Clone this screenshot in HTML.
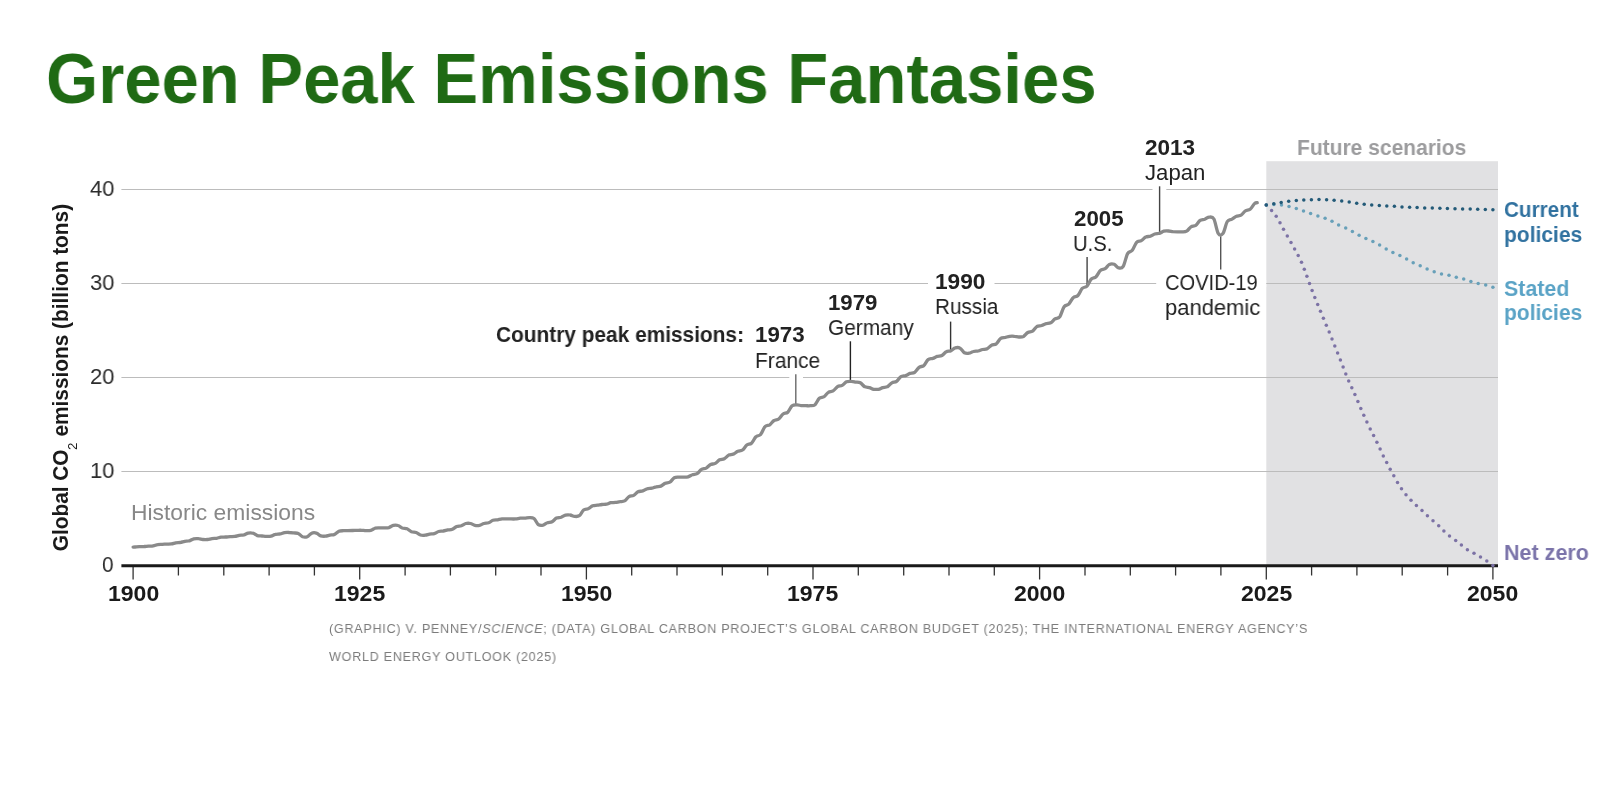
<!DOCTYPE html>
<html><head><meta charset="utf-8"><title>Green Peak Emissions Fantasies</title>
<style>
html,body{margin:0;padding:0;background:#fff;}
body{width:1600px;height:800px;position:relative;overflow:hidden;font-family:"Liberation Sans",sans-serif;}
h1{position:absolute;left:46.3px;top:40.4px;margin:0;font-size:69.6px;line-height:78px;transform-origin:0 0;transform:scaleX(0.963);font-weight:bold;color:#1f6a14;white-space:nowrap;will-change:transform;}
svg{position:absolute;left:0;top:0;}
.t{position:absolute;white-space:nowrap;transform-origin:0 0;will-change:transform;}
.cap{position:absolute;left:329px;white-space:nowrap;font-size:13px;line-height:13px;color:#7b7b7b;letter-spacing:0.75px;transform-origin:0 0;transform:scaleX(0.968);will-change:transform;}
.ytitle{position:absolute;left:0;top:0;white-space:nowrap;font-weight:bold;color:#1a1a1a;font-size:22.6px;line-height:22.6px;transform-origin:0 0;transform:translate(49.8px,551.3px) rotate(-90deg) scaleX(0.922);}
.ytitle sub{font-weight:normal;font-size:12px;vertical-align:baseline;position:relative;top:8.6px;margin-left:-0.6px;margin-right:1.6px;line-height:0;display:inline-block;transform:scaleX(1.2);transform-origin:0 0;}
</style></head><body>
<h1>Green Peak Emissions Fantasies</h1>
<svg width="1600" height="800" viewBox="0 0 1600 800">
<rect x="1266.3" y="161.2" width="231.7" height="405" fill="#e1e1e3"/>
<g stroke="#bcbcbc" stroke-width="1.2"><line x1="121.4" y1="471.5" x2="1498" y2="471.5"/><line x1="121.4" y1="377.5" x2="1498" y2="377.5"/><line x1="121.4" y1="283.5" x2="1498" y2="283.5"/><line x1="121.4" y1="189.5" x2="1498" y2="189.5"/></g>
<g fill="#fff">
<rect x="928" y="280" width="66.5" height="7"/>
<rect x="1156.2" y="280" width="110" height="7"/>
<rect x="1152.5" y="186" width="13.8" height="7"/>
<rect x="789.3" y="374" width="13.7" height="7"/>
</g>
<g stroke="#333" stroke-width="1.3"><line x1="133.1" y1="566" x2="133.1" y2="579.5"/><line x1="178.4" y1="566" x2="178.4" y2="575.5"/><line x1="223.8" y1="566" x2="223.8" y2="575.5"/><line x1="269.1" y1="566" x2="269.1" y2="575.5"/><line x1="314.4" y1="566" x2="314.4" y2="575.5"/><line x1="359.7" y1="566" x2="359.7" y2="579.5"/><line x1="405.1" y1="566" x2="405.1" y2="575.5"/><line x1="450.4" y1="566" x2="450.4" y2="575.5"/><line x1="495.7" y1="566" x2="495.7" y2="575.5"/><line x1="541.0" y1="566" x2="541.0" y2="575.5"/><line x1="586.4" y1="566" x2="586.4" y2="579.5"/><line x1="631.7" y1="566" x2="631.7" y2="575.5"/><line x1="677.0" y1="566" x2="677.0" y2="575.5"/><line x1="722.3" y1="566" x2="722.3" y2="575.5"/><line x1="767.7" y1="566" x2="767.7" y2="575.5"/><line x1="813.0" y1="566" x2="813.0" y2="579.5"/><line x1="858.3" y1="566" x2="858.3" y2="575.5"/><line x1="903.7" y1="566" x2="903.7" y2="575.5"/><line x1="949.0" y1="566" x2="949.0" y2="575.5"/><line x1="994.3" y1="566" x2="994.3" y2="575.5"/><line x1="1039.6" y1="566" x2="1039.6" y2="579.5"/><line x1="1085.0" y1="566" x2="1085.0" y2="575.5"/><line x1="1130.3" y1="566" x2="1130.3" y2="575.5"/><line x1="1175.6" y1="566" x2="1175.6" y2="575.5"/><line x1="1220.9" y1="566" x2="1220.9" y2="575.5"/><line x1="1266.3" y1="566" x2="1266.3" y2="579.5"/><line x1="1311.6" y1="566" x2="1311.6" y2="575.5"/><line x1="1356.9" y1="566" x2="1356.9" y2="575.5"/><line x1="1402.2" y1="566" x2="1402.2" y2="575.5"/><line x1="1447.6" y1="566" x2="1447.6" y2="575.5"/><line x1="1492.9" y1="566" x2="1492.9" y2="579.5"/></g>
<line x1="121.4" y1="565.7" x2="1498" y2="565.7" stroke="#1a1a1a" stroke-width="3"/>
<g stroke-width="1.4">
<line x1="795.8" y1="374.3" x2="795.8" y2="404" stroke="#6a6a6a"/>
<line x1="850.4" y1="341.3" x2="850.4" y2="381.5" stroke="#222"/>
<line x1="950.6" y1="321.6" x2="950.6" y2="350.3" stroke="#333"/>
<line x1="1087.1" y1="257" x2="1087.1" y2="285" stroke="#444"/>
<line x1="1159.6" y1="186.3" x2="1159.6" y2="233" stroke="#444"/>
<line x1="1220.7" y1="236.3" x2="1220.7" y2="269.5" stroke="#555"/>
</g>
<path d="M133.1,547.1C133.4,547.1 134.0,547.1 135.1,547.0C136.2,546.9 137.9,546.7 139.4,546.6C141.0,546.5 142.6,546.5 144.2,546.5C145.7,546.4 147.0,546.2 148.5,546.1C150.0,546.0 151.7,546.1 153.2,545.8C154.7,545.6 156.1,544.8 157.6,544.6C159.1,544.3 160.8,544.4 162.3,544.3C163.8,544.2 165.1,544.2 166.6,544.1C168.2,544.0 169.8,544.1 171.4,543.9C172.9,543.7 174.2,543.1 175.7,542.8C177.2,542.6 178.9,542.7 180.4,542.5C181.9,542.2 183.3,541.6 184.8,541.3C186.3,541.1 188.0,541.3 189.5,540.8C191.0,540.4 192.3,539.2 193.8,538.8C195.3,538.5 197.0,538.5 198.6,538.7C200.1,538.8 201.4,539.4 202.9,539.5C204.4,539.7 206.1,539.7 207.6,539.5C209.1,539.3 210.5,538.8 212.0,538.6C213.5,538.4 215.2,538.5 216.7,538.3C218.2,538.0 219.5,537.4 221.0,537.2C222.5,537.0 224.2,537.1 225.7,537.0C227.3,536.9 228.6,536.7 230.1,536.6C231.6,536.5 233.3,536.6 234.8,536.4C236.3,536.2 237.7,535.6 239.2,535.3C240.7,535.1 242.4,535.2 243.9,534.9C245.4,534.5 246.7,533.4 248.2,533.1C249.7,532.8 251.4,532.7 252.9,533.2C254.5,533.6 255.8,535.1 257.3,535.6C258.8,536.1 260.5,535.9 262.0,536.0C263.5,536.1 264.8,536.3 266.4,536.3C267.9,536.3 269.6,536.4 271.1,536.1C272.6,535.8 273.9,534.7 275.4,534.4C276.9,534.0 278.6,534.2 280.1,533.9C281.7,533.6 283.0,532.9 284.5,532.6C286.0,532.4 287.7,532.4 289.2,532.5C290.7,532.5 292.0,532.7 293.6,532.9C295.1,533.1 296.8,532.8 298.3,533.5C299.8,534.1 301.1,536.2 302.6,536.8C304.1,537.3 305.8,537.3 307.3,536.7C308.8,536.1 310.2,533.8 311.7,533.2C313.2,532.5 314.9,532.6 316.4,533.1C317.9,533.5 319.2,535.4 320.8,535.9C322.3,536.4 324.0,536.3 325.5,536.2C327.0,536.1 328.3,535.4 329.8,535.1C331.3,534.8 333.0,535.1 334.5,534.4C336.0,533.8 337.4,531.9 338.9,531.2C340.4,530.6 342.1,530.8 343.6,530.7C345.1,530.6 346.4,530.6 347.9,530.6C349.5,530.5 351.2,530.5 352.7,530.5C354.2,530.5 355.5,530.3 357.0,530.3C358.5,530.3 360.2,530.2 361.7,530.3C363.2,530.4 364.6,530.7 366.1,530.7C367.6,530.7 369.3,530.8 370.8,530.4C372.3,530.0 373.6,528.7 375.1,528.2C376.7,527.8 378.3,528.0 379.9,527.9C381.4,527.8 382.7,528.0 384.2,527.9C385.7,527.8 387.4,528.0 388.9,527.6C390.4,527.1 391.8,525.8 393.3,525.4C394.8,525.1 396.5,525.0 398.0,525.5C399.5,525.9 400.8,527.4 402.3,528.0C403.9,528.5 405.5,528.2 407.1,528.8C408.6,529.4 409.9,531.1 411.4,531.7C412.9,532.3 414.6,532.0 416.1,532.5C417.6,533.1 419.0,534.6 420.5,535.0C422.0,535.5 423.7,535.4 425.2,535.2C426.7,535.1 428.0,534.4 429.5,534.1C431.0,533.8 432.7,534.0 434.3,533.6C435.8,533.2 437.1,531.9 438.6,531.5C440.1,531.1 441.8,531.3 443.3,531.0C444.8,530.8 446.2,530.2 447.7,529.9C449.2,529.7 450.9,529.9 452.4,529.3C453.9,528.7 455.2,527.1 456.7,526.5C458.2,525.9 459.9,526.2 461.4,525.7C463.0,525.2 464.3,523.9 465.8,523.5C467.3,523.2 469.0,523.2 470.5,523.5C472.0,523.8 473.4,525.0 474.9,525.3C476.4,525.6 478.1,525.6 479.6,525.3C481.1,525.0 482.4,523.9 483.9,523.5C485.4,523.1 487.1,523.3 488.6,522.8C490.2,522.3 491.5,520.8 493.0,520.3C494.5,519.8 496.2,520.0 497.7,519.8C499.2,519.5 500.5,519.1 502.1,518.9C503.6,518.8 505.3,518.8 506.8,518.8C508.3,518.8 509.6,518.9 511.1,518.9C512.6,519.0 514.3,519.0 515.8,518.9C517.3,518.7 518.7,518.4 520.2,518.2C521.7,518.1 523.4,518.2 524.9,518.1C526.4,518.0 527.7,517.6 529.3,517.6C530.8,517.7 532.5,517.4 534.0,518.5C535.5,519.7 536.8,523.5 538.3,524.6C539.8,525.7 541.5,525.5 543.0,525.2C544.5,524.8 545.9,523.2 547.4,522.7C548.9,522.1 550.6,522.5 552.1,521.7C553.6,520.9 554.9,518.9 556.5,518.1C558.0,517.4 559.7,517.7 561.2,517.2C562.7,516.7 564.0,515.5 565.5,515.1C567.0,514.7 568.7,514.7 570.2,515.0C571.7,515.2 573.1,516.3 574.6,516.4C576.1,516.5 577.8,516.8 579.3,515.7C580.8,514.7 582.1,511.2 583.6,510.0C585.2,508.8 586.9,509.4 588.4,508.6C589.9,507.9 591.2,506.4 592.7,505.8C594.2,505.2 595.9,505.4 597.4,505.2C598.9,505.0 600.3,504.7 601.8,504.5C603.3,504.3 605.0,504.5 606.5,504.2C608.0,503.9 609.3,503.0 610.8,502.7C612.4,502.5 614.0,502.6 615.6,502.4C617.1,502.2 618.4,501.9 619.9,501.7C621.4,501.4 623.1,501.7 624.6,500.9C626.1,500.1 627.5,497.5 629.0,496.6C630.5,495.7 632.2,496.2 633.7,495.4C635.2,494.6 636.5,492.5 638.0,491.8C639.5,491.1 641.2,491.4 642.8,490.9C644.3,490.4 645.6,489.2 647.1,488.8C648.6,488.3 650.3,488.5 651.8,488.2C653.3,487.9 654.7,487.1 656.2,486.8C657.7,486.4 659.4,486.7 660.9,486.1C662.4,485.5 663.7,483.9 665.2,483.2C666.7,482.6 668.4,483.0 669.9,482.1C671.5,481.2 672.8,478.6 674.3,477.8C675.8,477.0 677.5,477.3 679.0,477.1C680.5,477.0 681.9,477.2 683.4,477.1C684.9,477.1 686.6,477.2 688.1,476.8C689.6,476.4 690.9,475.2 692.4,474.7C693.9,474.1 695.6,474.5 697.1,473.6C698.7,472.8 700.0,470.3 701.5,469.4C703.0,468.4 704.7,468.9 706.2,468.1C707.7,467.3 709.1,465.3 710.6,464.5C712.1,463.8 713.8,464.2 715.3,463.4C716.8,462.6 718.1,460.6 719.6,459.8C721.1,459.1 722.8,459.5 724.3,458.7C725.9,457.9 727.2,455.9 728.7,455.1C730.2,454.4 731.9,454.8 733.4,454.1C734.9,453.5 736.2,452.0 737.8,451.3C739.3,450.6 741.0,451.1 742.5,450.0C744.0,449.0 745.3,446.2 746.8,445.0C748.3,443.9 750.0,444.6 751.5,443.2C753.0,441.9 754.4,438.2 755.9,436.8C757.4,435.3 759.1,436.2 760.6,434.5C762.1,432.9 763.4,428.3 765.0,426.7C766.5,425.1 768.2,425.8 769.7,424.8C771.2,423.7 772.5,421.4 774.0,420.5C775.5,419.5 777.2,420.1 778.7,419.0C780.2,417.9 781.6,415.1 783.1,414.0C784.6,412.9 786.3,413.6 787.8,412.2C789.3,410.8 790.6,407.0 792.1,405.8C793.7,404.6 795.4,404.9 796.9,404.9C798.4,404.8 799.7,405.4 801.2,405.6C802.7,405.7 804.4,405.7 805.9,405.7C807.4,405.7 808.8,405.9 810.3,405.7C811.8,405.5 813.5,405.9 815.0,404.7C816.5,403.4 817.8,399.6 819.3,398.3C820.9,396.9 822.5,397.6 824.1,396.6C825.6,395.6 826.9,393.2 828.4,392.3C829.9,391.3 831.6,391.9 833.1,390.9C834.6,390.0 836.0,387.6 837.5,386.6C839.0,385.7 840.7,386.2 842.2,385.4C843.7,384.6 845.0,382.5 846.5,381.8C848.1,381.2 849.7,381.3 851.3,381.4C852.8,381.4 854.1,381.8 855.6,382.1C857.1,382.3 858.8,382.0 860.3,382.8C861.8,383.6 863.2,385.9 864.7,386.7C866.2,387.6 867.9,387.2 869.4,387.6C870.9,388.0 872.2,389.0 873.7,389.3C875.2,389.5 876.9,389.5 878.5,389.3C880.0,389.0 881.3,388.0 882.8,387.6C884.3,387.2 886.0,387.6 887.5,386.7C889.0,385.9 890.4,383.7 891.9,382.8C893.4,381.9 895.1,382.5 896.6,381.4C898.1,380.4 899.4,377.6 900.9,376.7C902.4,375.7 904.1,376.1 905.6,375.6C907.2,375.0 908.5,374.0 910.0,373.4C911.5,372.9 913.2,373.3 914.7,372.3C916.2,371.3 917.6,368.4 919.1,367.3C920.6,366.2 922.3,366.8 923.8,365.6C925.3,364.3 926.6,360.8 928.1,359.6C929.6,358.4 931.3,358.9 932.8,358.4C934.4,357.8 935.7,356.9 937.2,356.4C938.7,355.9 940.4,356.3 941.9,355.5C943.4,354.7 944.7,352.6 946.3,351.8C947.8,351.0 949.5,351.4 951.0,350.7C952.5,350.1 953.8,348.3 955.3,347.9C956.8,347.4 958.5,347.3 960.0,348.2C961.6,349.0 962.9,351.9 964.4,352.8C965.9,353.6 967.6,353.5 969.1,353.2C970.6,353.0 971.9,351.8 973.5,351.5C975.0,351.1 976.7,351.3 978.2,351.0C979.7,350.6 981.0,349.9 982.5,349.5C984.0,349.2 985.7,349.5 987.2,348.7C988.7,348.0 990.1,346.0 991.6,345.2C993.1,344.3 994.8,344.9 996.3,343.8C997.8,342.6 999.1,339.5 1000.7,338.4C1002.2,337.3 1003.9,337.7 1005.4,337.4C1006.9,337.0 1008.2,336.5 1009.7,336.3C1011.2,336.1 1012.9,336.1 1014.4,336.3C1015.9,336.4 1017.3,336.9 1018.8,337.0C1020.3,337.0 1022.0,337.2 1023.5,336.5C1025.0,335.7 1026.3,333.4 1027.8,332.5C1029.4,331.6 1031.1,332.2 1032.6,331.2C1034.1,330.2 1035.4,327.5 1036.9,326.5C1038.4,325.6 1040.1,326.0 1041.6,325.5C1043.1,325.1 1044.5,324.2 1046.0,323.7C1047.5,323.3 1049.2,323.6 1050.7,322.8C1052.2,322.0 1053.5,319.9 1055.0,318.9C1056.6,317.9 1058.2,318.7 1059.8,316.7C1061.3,314.7 1062.6,308.8 1064.1,306.7C1065.6,304.6 1067.3,305.6 1068.8,304.1C1070.3,302.6 1071.7,299.1 1073.2,297.7C1074.7,296.2 1076.4,297.1 1077.9,295.5C1079.4,294.0 1080.7,290.0 1082.2,288.4C1083.8,286.8 1085.4,287.7 1087.0,286.1C1088.5,284.6 1089.8,280.5 1091.3,279.0C1092.8,277.4 1094.5,278.3 1096.0,276.8C1097.5,275.4 1098.9,271.8 1100.4,270.4C1101.9,269.1 1103.6,269.7 1105.1,268.7C1106.6,267.7 1107.9,265.2 1109.4,264.4C1110.9,263.7 1112.6,263.7 1114.2,264.3C1115.7,264.9 1117.0,267.5 1118.5,267.9C1120.0,268.2 1121.7,268.8 1123.2,266.4C1124.7,264.0 1126.1,256.3 1127.6,253.6C1129.1,250.9 1130.8,252.2 1132.3,250.3C1133.8,248.4 1135.1,244.1 1136.6,242.4C1138.1,240.8 1139.8,241.5 1141.3,240.6C1142.9,239.7 1144.2,237.8 1145.7,237.1C1147.2,236.3 1148.9,236.7 1150.4,236.2C1151.9,235.7 1153.3,234.5 1154.8,234.0C1156.3,233.5 1158.0,233.8 1159.5,233.3C1161.0,232.9 1162.3,231.6 1163.8,231.2C1165.3,230.8 1167.0,230.9 1168.5,231.0C1170.1,231.1 1171.4,231.5 1172.9,231.7C1174.4,231.8 1176.1,231.8 1177.6,231.8C1179.1,231.8 1180.4,231.9 1182.0,231.8C1183.5,231.7 1185.2,232.0 1186.7,231.1C1188.2,230.3 1189.5,227.8 1191.0,226.8C1192.5,225.9 1194.2,226.4 1195.7,225.4C1197.2,224.3 1198.6,221.4 1200.1,220.4C1201.6,219.3 1203.3,219.8 1204.8,219.2C1206.3,218.7 1207.6,217.1 1209.2,217.1C1210.7,217.1 1212.4,216.3 1213.9,219.0C1215.4,221.7 1216.7,230.9 1218.2,233.3C1219.7,235.7 1221.4,235.6 1222.9,233.6C1224.4,231.7 1225.8,223.9 1227.3,221.5C1228.8,219.1 1230.5,220.0 1232.0,219.1C1233.5,218.3 1234.8,216.9 1236.4,216.3C1237.9,215.6 1239.6,216.0 1241.1,215.1C1242.6,214.2 1243.9,211.8 1245.4,210.9C1246.9,209.9 1248.6,210.5 1250.1,209.3C1251.6,208.1 1253.3,204.7 1254.5,203.6C1255.7,202.5 1256.7,202.8 1257.2,202.7" fill="none" stroke="#8a8a8a" stroke-width="3.3" stroke-linecap="round" stroke-linejoin="round"/>
<g fill="#7c72a5"><circle cx="1266.3" cy="205.0" r="1.75"/><circle cx="1271.6" cy="210.4" r="1.75"/><circle cx="1276.2" cy="216.2" r="1.75"/><circle cx="1280.0" cy="222.7" r="1.75"/><circle cx="1283.5" cy="229.3" r="1.75"/><circle cx="1287.3" cy="235.9" r="1.75"/><circle cx="1291.0" cy="242.4" r="1.75"/><circle cx="1294.6" cy="248.9" r="1.75"/><circle cx="1298.2" cy="255.6" r="1.75"/><circle cx="1301.5" cy="262.3" r="1.75"/><circle cx="1304.3" cy="269.3" r="1.75"/><circle cx="1306.9" cy="276.3" r="1.75"/><circle cx="1309.5" cy="283.4" r="1.75"/><circle cx="1312.1" cy="290.4" r="1.75"/><circle cx="1314.8" cy="297.4" r="1.75"/><circle cx="1317.7" cy="304.4" r="1.75"/><circle cx="1320.5" cy="311.3" r="1.75"/><circle cx="1323.4" cy="318.2" r="1.75"/><circle cx="1326.3" cy="325.2" r="1.75"/><circle cx="1329.2" cy="332.1" r="1.75"/><circle cx="1332.0" cy="339.0" r="1.75"/><circle cx="1334.8" cy="346.0" r="1.75"/><circle cx="1337.6" cy="353.0" r="1.75"/><circle cx="1340.4" cy="360.0" r="1.75"/><circle cx="1343.1" cy="367.0" r="1.75"/><circle cx="1345.8" cy="374.0" r="1.75"/><circle cx="1348.7" cy="380.9" r="1.75"/><circle cx="1351.8" cy="387.8" r="1.75"/><circle cx="1354.9" cy="394.6" r="1.75"/><circle cx="1357.9" cy="401.5" r="1.75"/><circle cx="1360.8" cy="408.4" r="1.75"/><circle cx="1363.8" cy="415.3" r="1.75"/><circle cx="1366.9" cy="422.1" r="1.75"/><circle cx="1370.2" cy="428.9" r="1.75"/><circle cx="1373.6" cy="435.6" r="1.75"/><circle cx="1376.9" cy="442.3" r="1.75"/><circle cx="1380.1" cy="449.1" r="1.75"/><circle cx="1383.3" cy="455.9" r="1.75"/><circle cx="1386.7" cy="462.6" r="1.75"/><circle cx="1390.2" cy="469.2" r="1.75"/><circle cx="1393.8" cy="475.8" r="1.75"/><circle cx="1397.5" cy="482.4" r="1.75"/><circle cx="1401.5" cy="488.7" r="1.75"/><circle cx="1406.0" cy="494.7" r="1.75"/><circle cx="1411.0" cy="500.3" r="1.75"/><circle cx="1416.4" cy="505.5" r="1.75"/><circle cx="1422.0" cy="510.6" r="1.75"/><circle cx="1427.4" cy="515.7" r="1.75"/><circle cx="1433.0" cy="520.7" r="1.75"/><circle cx="1438.7" cy="525.7" r="1.75"/><circle cx="1443.9" cy="531.0" r="1.75"/><circle cx="1449.5" cy="536.0" r="1.75"/><circle cx="1455.7" cy="540.4" r="1.75"/><circle cx="1461.4" cy="545.1" r="1.75"/><circle cx="1467.4" cy="549.7" r="1.75"/><circle cx="1474.0" cy="553.3" r="1.75"/><circle cx="1480.5" cy="557.0" r="1.75"/><circle cx="1486.8" cy="561.1" r="1.75"/><circle cx="1492.9" cy="565.5" r="1.75"/></g>
<g fill="#68a0b9"><circle cx="1266.3" cy="205.0" r="1.75"/><circle cx="1273.9" cy="204.5" r="1.75"/><circle cx="1281.5" cy="205.1" r="1.75"/><circle cx="1289.0" cy="206.4" r="1.75"/><circle cx="1296.3" cy="208.5" r="1.75"/><circle cx="1303.5" cy="210.9" r="1.75"/><circle cx="1310.6" cy="213.6" r="1.75"/><circle cx="1317.9" cy="215.9" r="1.75"/><circle cx="1325.1" cy="218.2" r="1.75"/><circle cx="1332.0" cy="221.3" r="1.75"/><circle cx="1338.6" cy="225.1" r="1.75"/><circle cx="1345.7" cy="228.0" r="1.75"/><circle cx="1352.4" cy="231.5" r="1.75"/><circle cx="1359.1" cy="235.2" r="1.75"/><circle cx="1365.9" cy="238.6" r="1.75"/><circle cx="1372.9" cy="241.4" r="1.75"/><circle cx="1379.6" cy="245.1" r="1.75"/><circle cx="1386.2" cy="248.9" r="1.75"/><circle cx="1392.9" cy="252.4" r="1.75"/><circle cx="1399.9" cy="255.4" r="1.75"/><circle cx="1406.6" cy="259.1" r="1.75"/><circle cx="1413.2" cy="262.8" r="1.75"/><circle cx="1420.2" cy="265.7" r="1.75"/><circle cx="1427.1" cy="268.9" r="1.75"/><circle cx="1434.2" cy="271.7" r="1.75"/><circle cx="1441.5" cy="273.9" r="1.75"/><circle cx="1449.0" cy="275.3" r="1.75"/><circle cx="1456.3" cy="277.2" r="1.75"/><circle cx="1463.7" cy="278.9" r="1.75"/><circle cx="1470.9" cy="281.5" r="1.75"/><circle cx="1478.2" cy="283.5" r="1.75"/><circle cx="1485.7" cy="284.9" r="1.75"/><circle cx="1492.9" cy="287.3" r="1.75"/></g>
<g fill="#235a78"><circle cx="1266.3" cy="205.0" r="1.75"/><circle cx="1273.8" cy="203.8" r="1.75"/><circle cx="1281.2" cy="202.5" r="1.75"/><circle cx="1288.7" cy="201.3" r="1.75"/><circle cx="1296.3" cy="200.5" r="1.75"/><circle cx="1303.8" cy="199.9" r="1.75"/><circle cx="1311.4" cy="199.7" r="1.75"/><circle cx="1319.0" cy="199.6" r="1.75"/><circle cx="1326.6" cy="199.7" r="1.75"/><circle cx="1334.1" cy="200.2" r="1.75"/><circle cx="1341.7" cy="201.1" r="1.75"/><circle cx="1349.2" cy="202.1" r="1.75"/><circle cx="1356.7" cy="203.3" r="1.75"/><circle cx="1364.2" cy="204.2" r="1.75"/><circle cx="1371.7" cy="204.9" r="1.75"/><circle cx="1379.3" cy="205.5" r="1.75"/><circle cx="1386.8" cy="206.0" r="1.75"/><circle cx="1394.4" cy="206.3" r="1.75"/><circle cx="1402.0" cy="206.9" r="1.75"/><circle cx="1409.6" cy="207.2" r="1.75"/><circle cx="1417.1" cy="207.6" r="1.75"/><circle cx="1424.7" cy="207.9" r="1.75"/><circle cx="1432.3" cy="208.1" r="1.75"/><circle cx="1439.9" cy="208.3" r="1.75"/><circle cx="1447.4" cy="208.5" r="1.75"/><circle cx="1455.0" cy="208.8" r="1.75"/><circle cx="1462.6" cy="208.9" r="1.75"/><circle cx="1470.2" cy="209.1" r="1.75"/><circle cx="1477.7" cy="209.3" r="1.75"/><circle cx="1485.3" cy="209.5" r="1.75"/><circle cx="1492.9" cy="209.8" r="1.75"/></g>
</svg>
<div class="t" style="left:89.51px;top:177.00px;font-size:22.67px;line-height:22.67px;font-weight:normal;color:#2b2b2b;transform:scaleX(0.9726);">40</div>
<div class="t" style="left:102.18px;top:553.00px;font-size:22.67px;line-height:22.67px;font-weight:normal;color:#2b2b2b;transform:scaleX(0.9209);">0</div>
<div class="t" style="left:107.67px;top:582.00px;font-size:22.67px;line-height:22.67px;font-weight:bold;color:#1a1a1a;transform:scaleX(1.0167);">1900</div>
<div class="t" style="left:131.13px;top:501.00px;font-size:22.67px;line-height:22.67px;font-weight:normal;color:#888888;transform:scaleX(1.0089);">Historic emissions</div>
<div class="t" style="left:495.56px;top:324.00px;font-size:22.15px;line-height:22.15px;font-weight:bold;color:#222;transform:scaleX(0.9418);">Country peak emissions:</div>
<div class="t" style="left:755.29px;top:324.00px;font-size:22.15px;line-height:22.15px;font-weight:bold;color:#222;transform:scaleX(1.0064);">1973</div>
<div class="t" style="left:755.14px;top:350.00px;font-size:22.15px;line-height:22.15px;font-weight:normal;color:#222;transform:scaleX(0.9464);">France</div>
<div class="t" style="left:827.89px;top:292.00px;font-size:22.15px;line-height:22.15px;font-weight:bold;color:#222;transform:scaleX(1.0043);">1979</div>
<div class="t" style="left:827.96px;top:317.00px;font-size:22.15px;line-height:22.15px;font-weight:normal;color:#222;transform:scaleX(0.9411);">Germany</div>
<div class="t" style="left:934.86px;top:271.00px;font-size:22.15px;line-height:22.15px;font-weight:bold;color:#222;transform:scaleX(1.0246);">1990</div>
<div class="t" style="left:934.76px;top:296.00px;font-size:22.15px;line-height:22.15px;font-weight:normal;color:#222;transform:scaleX(0.9379);">Russia</div>
<div class="t" style="left:1073.65px;top:208.00px;font-size:22.15px;line-height:22.15px;font-weight:bold;color:#222;transform:scaleX(1.0062);">2005</div>
<div class="t" style="left:1073.40px;top:233.00px;font-size:22.15px;line-height:22.15px;font-weight:normal;color:#222;transform:scaleX(0.9121);">U.S.</div>
<div class="t" style="left:1144.94px;top:137.00px;font-size:22.15px;line-height:22.15px;font-weight:bold;color:#222;transform:scaleX(1.0178);">2013</div>
<div class="t" style="left:1145.20px;top:162.00px;font-size:22.15px;line-height:22.15px;font-weight:normal;color:#222;transform:scaleX(0.9949);">Japan</div>
<div class="t" style="left:1165.34px;top:272.00px;font-size:22.15px;line-height:22.15px;font-weight:normal;color:#222;transform:scaleX(0.9075);">COVID-19</div>
<div class="t" style="left:1164.76px;top:297.00px;font-size:22.15px;line-height:22.15px;font-weight:normal;color:#222;transform:scaleX(0.9920);">pandemic</div>
<div class="t" style="left:1297.09px;top:137.00px;font-size:22.36px;line-height:22.36px;font-weight:bold;color:#9c9c9e;transform:scaleX(0.9395);">Future scenarios</div>
<div class="t" style="left:1504.09px;top:198.00px;font-size:22.67px;line-height:22.67px;font-weight:bold;color:#3172a0;transform:scaleX(0.9130);">Current</div>
<div class="t" style="left:1503.81px;top:223.00px;font-size:22.67px;line-height:22.67px;font-weight:bold;color:#3172a0;transform:scaleX(0.9274);">policies</div>
<div class="t" style="left:1504.29px;top:277.00px;font-size:22.67px;line-height:22.67px;font-weight:bold;color:#5aa3c6;transform:scaleX(0.9433);">Stated</div>
<div class="t" style="left:1503.81px;top:301.00px;font-size:22.67px;line-height:22.67px;font-weight:bold;color:#5aa3c6;transform:scaleX(0.9274);">policies</div>
<div class="t" style="left:1503.58px;top:541.00px;font-size:22.67px;line-height:22.67px;font-weight:bold;color:#7b74aa;transform:scaleX(0.9494);">Net zero</div>
<div class="t" style="left:89.51px;top:271.00px;font-size:22.67px;line-height:22.67px;font-weight:normal;color:#2b2b2b;transform:scaleX(0.9726);">30</div>
<div class="t" style="left:89.51px;top:365.00px;font-size:22.67px;line-height:22.67px;font-weight:normal;color:#2b2b2b;transform:scaleX(0.9726);">20</div>
<div class="t" style="left:89.51px;top:459.00px;font-size:22.67px;line-height:22.67px;font-weight:normal;color:#2b2b2b;transform:scaleX(0.9726);">10</div>
<div class="t" style="left:334.00px;top:582.00px;font-size:22.67px;line-height:22.67px;font-weight:bold;color:#1a1a1a;transform:scaleX(1.0167);">1925</div>
<div class="t" style="left:560.64px;top:582.00px;font-size:22.67px;line-height:22.67px;font-weight:bold;color:#1a1a1a;transform:scaleX(1.0167);">1950</div>
<div class="t" style="left:787.27px;top:582.00px;font-size:22.67px;line-height:22.67px;font-weight:bold;color:#1a1a1a;transform:scaleX(1.0167);">1975</div>
<div class="t" style="left:1013.90px;top:582.00px;font-size:22.67px;line-height:22.67px;font-weight:bold;color:#1a1a1a;transform:scaleX(1.0167);">2000</div>
<div class="t" style="left:1240.54px;top:582.00px;font-size:22.67px;line-height:22.67px;font-weight:bold;color:#1a1a1a;transform:scaleX(1.0167);">2025</div>
<div class="t" style="left:1467.17px;top:582.00px;font-size:22.67px;line-height:22.67px;font-weight:bold;color:#1a1a1a;transform:scaleX(1.0167);">2050</div>

<div class="ytitle">Global CO<sub>2</sub> emissions (billion tons)</div>
<div class="cap" style="top:622.2px">(GRAPHIC) V. PENNEY/<i>SCIENCE</i>; (DATA) GLOBAL CARBON PROJECT’S GLOBAL CARBON BUDGET (2025); THE INTERNATIONAL ENERGY AGENCY’S</div>
<div class="cap" style="top:650.2px">WORLD ENERGY OUTLOOK (2025)</div>
</body></html>
